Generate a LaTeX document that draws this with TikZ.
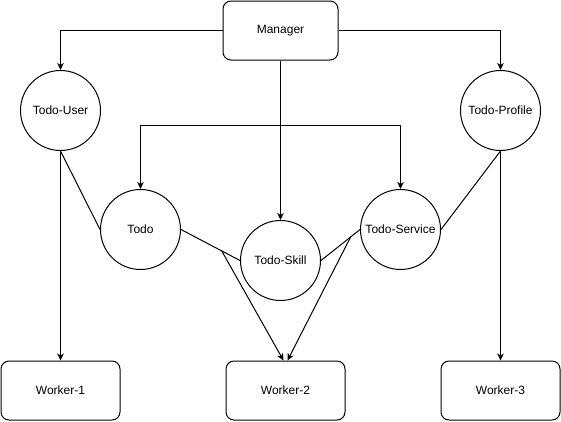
\documentclass[tikz,border=0pt]{standalone}
\usepackage{fontspec}
\setmainfont{Liberation Sans}
\usetikzlibrary{arrows.meta}

\begin{document}
\begin{tikzpicture}[x=1pt, y=-1pt, line width=1pt,
    every node/.style={font=\fontsize{12}{14}\selectfont, inner sep=0pt},
    box/.style={draw, rounded corners=8pt, minimum width=119pt, minimum height=59pt},
    svc/.style={draw, circle, minimum size=80pt},
    arr/.style={-{Stealth[length=7pt, width=6.5pt, inset=2pt]}}]
    \useasboundingbox (0, 0) rectangle (561, 421);

    % Manager
    \node[box, minimum width=115pt] (mgr) at (280.5, 30.5) {Manager};

    % Services
    \node[svc] (user) at (60.5, 110.5) {Todo-User};
    \node[svc] (profile) at (500.5, 110.5) {Todo-Profile};
    \node[svc] (todo) at (140.5, 229.5) {Todo};
    \node[svc] (skill) at (280.5, 260.5) {Todo-Skill};
    \node[svc] (service) at (400.5, 229.5) {Todo-Service};

    % Workers
    \node[box] (w1) at (60.5, 390.5) {Worker-1};
    \node[box] (w2) at (285.5, 390.5) {Worker-2};
    \node[box] (w3) at (500.5, 390.5) {Worker-3};

    % From the manager
    \coordinate (split) at (280.5, 125.5);
    \draw[arr] (mgr.west) -| (user.north);
    \draw[arr] (mgr.east) -| (profile.north);
    \draw[arr] (mgr.south) -- (skill.north);
    \draw[arr] (split) -| (todo.north);
    \draw[arr] (split) -| (service.north);

    % Outer services to workers
    \draw[arr] (user.south) -- (w1.north);
    \draw[arr] (profile.south) -- (w3.north);

    % Plain links
    \draw (user.south) -- (todo.west);
    \draw (profile.south) -- (service.east);
    \draw (todo.east) -- coordinate[pos=0.69] (lft) (skill.west);
    \draw (service.west) -- coordinate[pos=0.24] (rgt) (skill.east);

    % Into Worker-2
    \coordinate (w2l) at ([xshift=-2pt]w2.north);
    \coordinate (w2r) at ([xshift=2pt]w2.north);
    \draw[arr] (lft) -- (w2l);
    \draw[arr] (rgt) -- (w2r);
\end{tikzpicture}
\end{document}
